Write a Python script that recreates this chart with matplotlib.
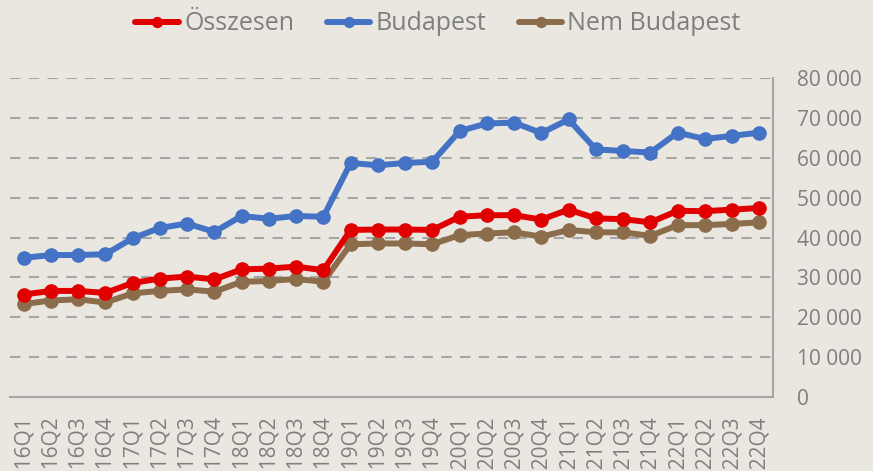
import matplotlib.pyplot as plt
from matplotlib.ticker import FuncFormatter

# quarters 2016Q1 - 2022Q4
quarters = ["%dQ%d" % (y, q) for y in range(2016, 2023) for q in range(1, 5)]

osszesen = [25700, 26600, 26600, 26100, 28600, 29700, 30200, 29500,
            32000, 32200, 32700, 31800, 41900, 42000, 42000, 41900,
            45200, 45600, 45600, 44500, 47000, 44800, 44600, 43800,
            46700, 46600, 47000, 47400]
budapest = [34900, 35600, 35600, 35800, 39800, 42400, 43500, 41400,
            45400, 44700, 45400, 45200, 58700, 58100, 58700, 59000,
            66700, 68600, 68800, 66200, 69600, 62100, 61700, 61300,
            66300, 64700, 65500, 66300]
nem_budapest = [23300, 24200, 24500, 23700, 26000, 26600, 27000, 26400,
                28900, 29100, 29600, 28900, 38300, 38500, 38500, 38300,
                40600, 41000, 41300, 40200, 41900, 41300, 41300, 40400,
                43100, 43100, 43400, 43800]

bg = "#EAE7E1"
grey = "#7F7F7F"
plt.rcParams["font.family"] = ["Open Sans", "DejaVu Sans"]

fig = plt.figure(figsize=(8.73, 4.71), dpi=100, facecolor=bg)
ax = fig.add_axes([10/873, 1-397/471, 763/873, 319/471], facecolor=bg)

x = range(len(quarters))
style = dict(lw=4.3, marker="o", ms=9.5, solid_capstyle="round", solid_joinstyle="round")
ax.plot(x, budapest, color="#4472C4", label="Budapest", zorder=3, **style)
ax.plot(x, nem_budapest, color="#8B6D4B", label="Nem Budapest", zorder=3, **style)
ax.plot(x, osszesen, color="#E00000", label="Összesen", zorder=4, **style)

ax.set_xlim(-0.5, len(quarters) - 0.5)
ax.set_ylim(0, 80000)
ax.set_yticks(range(0, 80001, 10000))
ax.yaxis.set_major_formatter(FuncFormatter(lambda v, p: "{:,.0f}".format(v).replace(",", " ")))
ax.yaxis.tick_right()
ax.set_xticks(list(x))
ax.set_xticklabels(quarters, rotation=90)
ax.tick_params(axis="y", length=0, pad=17, labelsize=15, labelcolor=grey)
ax.tick_params(axis="x", length=0, pad=14, labelsize=15, labelcolor=grey)

for yv in range(10000, 80001, 10000):
    ax.axhline(yv, color="#A6A6A6", lw=1.5, dashes=(5, 4), zorder=1)

for s in ["top", "left"]:
    ax.spines[s].set_visible(False)
for s in ["bottom", "right"]:
    ax.spines[s].set_color("#A6A6A6")
    ax.spines[s].set_linewidth(1.5)

h, l = ax.get_legend_handles_labels()
order = [2, 0, 1]
leg = fig.legend([h[i] for i in order], [l[i] for i in order], loc="center",
                 bbox_to_anchor=(438/873, 1-24/471), ncol=3, frameon=False,
                 fontsize=18, handlelength=1.75, handletextpad=0.2, columnspacing=1.3,
                 markerscale=0.75)
for t in leg.get_texts():
    t.set_color(grey)

fig.savefig("out.png", dpi=100, facecolor=bg)
